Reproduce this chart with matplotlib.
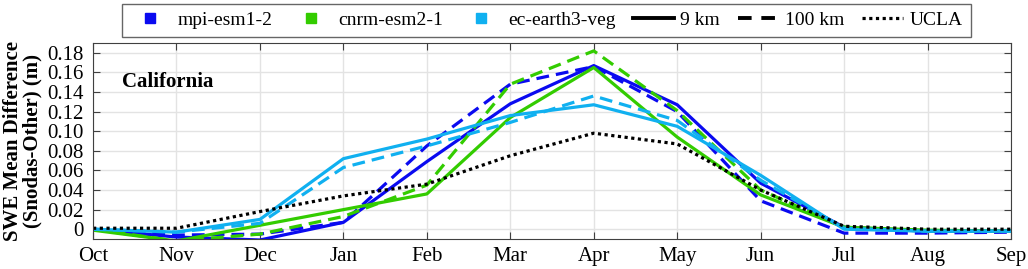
import matplotlib
matplotlib.use("Agg")
import matplotlib.pyplot as plt
from matplotlib.lines import Line2D
import numpy as np

plt.rcParams['font.family'] = ['Liberation Serif', 'DejaVu Serif']

months = ['Oct', 'Nov', 'Dec', 'Jan', 'Feb', 'Mar', 'Apr', 'May', 'Jun', 'Jul', 'Aug', 'Sep']

# SWE mean difference (m)
mpi_9km = [0, -0.008, -0.011, 0.007, 0.069, 0.128, 0.167, 0.127, 0.047, 0.002, -0.002, -0.002]
mpi_100km = [0, -0.006, -0.005, 0.007, 0.085, 0.148, 0.166, 0.120, 0.029, -0.004, -0.004, -0.003]
cnrm_9km = [-0.001, -0.012, 0.004, 0.020, 0.036, 0.114, 0.165, 0.094, 0.035, 0.002, -0.001, -0.002]
cnrm_100km = [0, -0.012, -0.005, 0.013, 0.045, 0.148, 0.182, 0.121, 0.040, 0.002, -0.002, -0.002]
ec_9km = [0, -0.003, 0.010, 0.072, 0.092, 0.116, 0.127, 0.105, 0.055, 0.000, -0.002, -0.002]
ec_100km = [0, -0.003, 0.006, 0.063, 0.085, 0.109, 0.136, 0.111, 0.050, 0.001, -0.002, -0.002]
ucla = [0.001, 0.001, 0.018, 0.034, 0.046, 0.075, 0.098, 0.087, 0.040, 0.003, 0.000, 0.000]

c_mpi = '#0a0af0'
c_cnrm = '#33cc00'
c_ec = '#10b0f0'

x = np.arange(len(months))
lw = 2.3
dash = (4, 2.2)

fig = plt.figure(figsize=(10.28, 2.69), dpi=100)
ax = fig.add_axes([0.0905, 0.1115, 0.893, 0.7285])

ax.plot(x, mpi_9km, color=c_mpi, lw=lw)
ax.plot(x, mpi_100km, color=c_mpi, lw=lw, dashes=dash)
ax.plot(x, cnrm_9km, color=c_cnrm, lw=lw)
ax.plot(x, cnrm_100km, color=c_cnrm, lw=lw, dashes=dash)
ax.plot(x, ec_9km, color=c_ec, lw=lw)
ax.plot(x, ec_100km, color=c_ec, lw=lw, dashes=dash)
ax.plot(x, ucla, color='black', lw=lw, dashes=(1, 1.1))

ax.set_xlim(0, 11)
ax.set_ylim(-0.01, 0.19)
ax.set_xticks(x)
ax.set_xticklabels(months)
yt = np.arange(0, 0.181, 0.02)
ax.set_yticks(yt)
ax.set_yticklabels(['0'] + ['%.2f' % v for v in yt[1:]])
ax.tick_params(labelsize=15, direction='in', top=True, right=True, length=5,
               color='#404040')
ax.tick_params(axis='x', pad=6)
ax.tick_params(axis='y', pad=7)
ax.grid(True, color='#e3e3e3', lw=1)
ax.set_axisbelow(True)
for s in ax.spines.values():
    s.set_color('#404040')

ax.set_ylabel('SWE Mean Difference\n(Snodas-Other) (m)', fontsize=15,
              fontweight='bold', labelpad=3, linespacing=1.0)
ax.text(0.032, 0.80, 'California', transform=ax.transAxes, fontsize=15,
        fontweight='bold', va='center')

handles = [
    Line2D([], [], ls='none', marker='s', ms=7, color=c_mpi),
    Line2D([], [], ls='none', marker='s', ms=7, color=c_cnrm),
    Line2D([], [], ls='none', marker='s', ms=7, color=c_ec),
    Line2D([], [], color='black', lw=lw + 0.5),
    Line2D([], [], color='black', lw=lw + 0.5, dashes=(3.5, 2.5)),
    Line2D([], [], color='black', lw=lw, dashes=(1, 1.1)),
]
labels = ['mpi-esm1-2', 'cnrm-esm2-1', 'ec-earth3-veg', '9 km', '100 km', 'UCLA']
leg = fig.legend(handles, labels, ncol=6, loc='center', bbox_to_anchor=(0.5316, 0.924),
                 fontsize=14, frameon=True, fancybox=False, edgecolor='#404040',
                 handlelength=2.1, handletextpad=0.35, columnspacing=0.9,
                 borderpad=0.4)
leg.get_frame().set_linewidth(1)

fig.savefig('out.png', dpi=100)
